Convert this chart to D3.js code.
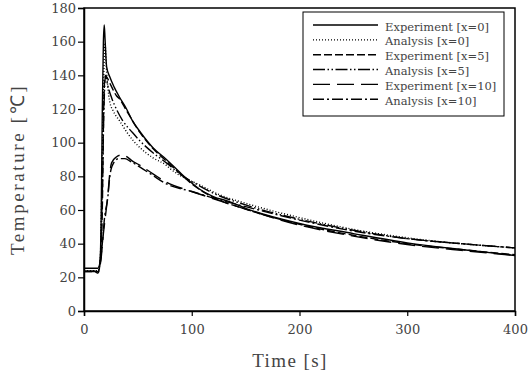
<!DOCTYPE html>
<html><head><meta charset="utf-8">
<script src="https://cdn.jsdelivr.net/npm/d3@7/dist/d3.min.js"></script>
<style>body{margin:0;background:#fff}text{font-family:"DejaVu Serif",serif;fill:#444}</style>
</head><body><svg id="c" width="532" height="375"></svg>
<script>
const seriesNames = ["Experiment [x=0]","Analysis [x=0]","Experiment [x=5]","Analysis [x=5]","Experiment [x=10]","Analysis [x=10]"];
const xTicks = [0,100,200,300,400];
const yTicks = [0,20,40,60,80,100,120,140,160,180];

const expX0_t = [0,5,10,13,15,16,17,18,18.8,19.5,21,24,28,33,39.5,45,52,64,76.5,92,100,107,120,135,150,200,250,300,350,400];
const expX0_v = [25.4,25.4,25.4,25.4,30,60,120,160,170,162,145,139,133,127,120,113,106.5,97,90,80.5,76,72.5,68,65,61,52,46,40.5,36.5,33];
const anaX0_t = [0,5,10,13,15,16.5,18,19.5,21,23,24,27,33,40,46,52,64,76.5,80,92,107,126,150,200,250,300,350,400];
const anaX0_v = [24,24,24,24,30,70,130,159,142,128,124,119,113,106,101,97,91,86.5,84.5,79.5,75,69,64,55.5,48.5,43.5,40,37.5];
const expX5_t = [0,5,10,13,15,17,18,19,20,22,25,30,33,39.5,52,64,76.5,92,100,120,150,200,250,300,350,400];
const expX5_v = [23.4,23.4,23.4,23.4,28,60,110,135,140,138,134,128,126,119,106,96.5,89,80,75.5,67.5,60.5,51.5,45,40,36.5,33.5];
const anaX5_t = [0,5,10,13,15,17,18.5,20,22,26,30,36,45,52,64,76.5,92,100,120,150,200,250,300,350,400];
const anaX5_v = [23.6,23.6,23.6,23.6,30,70,120,140,134,126,120,113,106,101,94,88,80,77,70,63,54.5,48,43,40,37.5];
const expX10_t = [0,5,10,13,14,16,18,20,22,24,25.6,30,35,40,44,52,64,76.5,100,126,150,200,250,300,350,400];
const expX10_v = [23.4,23.4,23.4,22.5,24,32,46,57,68,82,88,91.5,92.7,91.5,89.5,86.5,81.5,76.5,71,65.5,60.5,51,44.5,39.5,36,33];
const anaX10_t = [0,5,10,13,14,17,19,22,24,26,32,38,44,52,64,76.5,100,126,150,200,250,300,350,400];
const anaX10_v = [23.6,23.6,23.6,23.6,25,40,55,67,80,86,90.5,90.5,88.5,85.5,80.5,75.5,71,66,62,54,47.5,43,40,37.5];

const series = [
  {name:seriesNames[0], t:expX0_t, v:expX0_v, dash:null},
  {name:seriesNames[1], t:anaX0_t, v:anaX0_v, dash:"1,2"},
  {name:seriesNames[2], t:expX5_t, v:expX5_v, dash:"8,3"},
  {name:seriesNames[3], t:anaX5_t, v:anaX5_v, dash:"12,2.5,1.5,2.5,1.5,2.5"},
  {name:seriesNames[4], t:expX10_t, v:expX10_v, dash:"17,7"},
  {name:seriesNames[5], t:anaX10_t, v:anaX10_v, dash:"11,3,2,3"}
];

const svg = d3.select("#c");
const L=84, R=515, T=8, B=311;
const x = d3.scaleLinear().domain([0,400]).range([L,R]);
const y = d3.scaleLinear().domain([0,180]).range([B,T]);

svg.append("rect").attr("x",L).attr("y",T).attr("width",R-L).attr("height",B-T)
  .attr("fill","none").attr("stroke","#000").attr("stroke-width",1.5);

const xa = svg.append("g").attr("transform",`translate(0,${B})`)
  .call(d3.axisBottom(x).tickValues(xTicks).tickSize(5).tickPadding(9).tickFormat(d3.format("d")));
const ya = svg.append("g").attr("transform",`translate(${L},0)`)
  .call(d3.axisLeft(y).tickValues(yTicks).tickSize(6).tickPadding(2).tickFormat(d3.format("d")));
[xa,ya].forEach(a=>{
  a.select(".domain").attr("stroke","#000").attr("stroke-width",1.5);
  a.selectAll(".tick line").attr("stroke","#000").attr("stroke-width",1.2);
  a.selectAll("text").style("font-family","'DejaVu Serif',serif").style("font-size","13px").attr("fill","#444");
});

const line = d3.line().x(d=>x(d[0])).y(d=>y(d[1])).curve(d3.curveMonotoneX);
series.forEach(s=>{
  svg.append("path").datum(s.t.map((t,i)=>[t,s.v[i]]))
    .attr("d",line).attr("fill","none").attr("stroke","#000").attr("stroke-width",1.4)
    .attr("stroke-dasharray",s.dash);
});

const lg = svg.append("g");
lg.append("rect").attr("x",303).attr("y",12).attr("width",201).attr("height",104)
  .attr("fill","#fff").attr("stroke","#000").attr("stroke-width",1);
series.forEach((s,i)=>{
  const yy = 25 + i*14.85;
  lg.append("line").attr("x1",313).attr("x2",378).attr("y1",yy).attr("y2",yy)
    .attr("stroke","#000").attr("stroke-width",1.4).attr("stroke-dasharray",s.dash);
  lg.append("text").attr("x",385).attr("y",yy+5.5).style("font-size","11.5px").attr("fill","#444").text(s.name);
});

svg.append("text").attr("x",290).attr("y",367).attr("text-anchor","middle")
  .style("font-family","'Liberation Serif',serif").style("font-size","19px").attr("fill","#444")
  .style("letter-spacing","1.4px").text("Time [s]");
svg.append("text").attr("transform","translate(24,169.5) rotate(-90)").attr("text-anchor","middle")
  .style("font-family","'Liberation Serif',serif").style("font-size","19px").attr("fill","#444")
  .style("letter-spacing","2.6px").text("Temperature [℃]");
</script></body></html>
